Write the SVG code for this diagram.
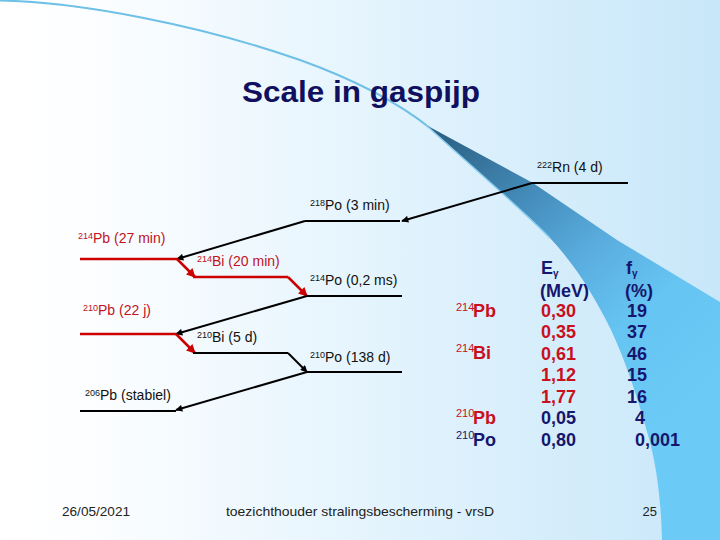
<svg xmlns="http://www.w3.org/2000/svg" width="720" height="540" viewBox="0 0 720 540">
<defs>
<linearGradient id="bg" x1="0" y1="0" x2="1" y2="0">
<stop offset="0" stop-color="#ffffff"/>
<stop offset="0.12" stop-color="#fdfeff"/>
<stop offset="0.55" stop-color="#e2f3fd"/>
<stop offset="1" stop-color="#c8e7f9"/>
</linearGradient>
<linearGradient id="wedge" gradientUnits="userSpaceOnUse" x1="440" y1="130" x2="690" y2="420">
<stop offset="0" stop-color="#2c5f82"/>
<stop offset="0.3" stop-color="#468fbe"/>
<stop offset="0.5" stop-color="#5aaedf"/>
<stop offset="0.7" stop-color="#66c4f2"/>
<stop offset="1" stop-color="#6ccbf6"/>
</linearGradient>
<marker id="ab" viewBox="0 0 10 10" refX="9" refY="5" markerWidth="9" markerHeight="7" markerUnits="userSpaceOnUse" orient="auto"><path d="M0,0 L10,5 L0,10 z" fill="#000"/></marker>
<marker id="ar" viewBox="0 0 10 10" refX="9" refY="5" markerWidth="10" markerHeight="9" markerUnits="userSpaceOnUse" orient="auto"><path d="M0,0 L10,5 L0,10 z" fill="#cc0000"/></marker>
<style>
.lvk{stroke:#000;stroke-width:2;fill:none}
.lvr{stroke:#cc0000;stroke-width:2.5;fill:none}
.ck{stroke:#000;stroke-width:2;fill:none;marker-end:url(#ab)}
.cr{stroke:#cc0000;stroke-width:2.5;fill:none;marker-end:url(#ar)}
.lbl{font-family:"Liberation Sans",Arial,sans-serif;font-size:14px;fill:#111}
.lblr{font-family:"Liberation Sans",Arial,sans-serif;font-size:14px;fill:#c0121e}
.sup{font-size:9px}
.tb{font-family:"Liberation Sans",Arial,sans-serif;font-size:18px;font-weight:bold}
.red{fill:#c8101e}
.navy{fill:#16166e}
.tsup{font-family:"Liberation Sans",Arial,sans-serif;font-size:11px}
.sub{font-size:10px}
.foot{font-family:"Liberation Sans",Arial,sans-serif;font-size:13px;fill:#222}
</style>
</defs>
<rect x="0" y="0" width="720" height="540" fill="url(#bg)"/>
<path d="M0,0.5 C80,2 200,25 300,60 C350,78 395,100 430,128" fill="none" stroke="#6ec0e6" stroke-width="2"/>
<path d="M426,125 L533,183 L617,240 L720,302 L720,540 L662,540 C661,505 658,470 648,435 C637,395 622,350 605,318 C590,290 575,265 550,238 C525,212 470,165 426,125 Z" fill="url(#wedge)"/>
<path d="M426,125 C470,165 525,212 550,238" fill="none" stroke="#86cdf0" stroke-width="1.5"/>
<text x="361" y="102" text-anchor="middle" textLength="238" lengthAdjust="spacingAndGlyphs" font-family="Liberation Sans, Arial, sans-serif" font-size="29" font-weight="bold" fill="#10105e">Scale in gaspijp</text>
<g id="connectors">
<line class="ck" x1="532" y1="183" x2="402" y2="221"/>
<line class="ck" x1="305" y1="221" x2="177" y2="259"/>
<line class="cr" x1="177" y1="259" x2="195" y2="277"/>
<line class="cr" x1="288" y1="277" x2="307" y2="296"/>
<line class="ck" x1="307" y1="296" x2="176" y2="334"/>
<line class="cr" x1="176" y1="334" x2="195" y2="353"/>
<line class="ck" x1="288" y1="353" x2="307" y2="372"/>
<line class="ck" x1="307" y1="372" x2="176" y2="410"/>
</g>
<g id="rn222">
<line class="lvk" x1="532" y1="183" x2="628" y2="183"/>
<text class="lbl" x="537" y="172"><tspan class="sup" dy="-4">222</tspan><tspan dy="4">Rn (4 d)</tspan></text>
</g>
<g id="po218">
<line class="lvk" x1="305" y1="221" x2="400" y2="221"/>
<text class="lbl" x="310" y="210"><tspan class="sup" dy="-4">218</tspan><tspan dy="4">Po (3 min)</tspan></text>
</g>
<g id="pb214">
<line class="lvr" x1="80" y1="259" x2="177" y2="259"/>
<text class="lblr" x="78" y="243"><tspan class="sup" dy="-4">214</tspan><tspan dy="4">Pb (27 min)</tspan></text>
</g>
<g id="bi214">
<line class="lvr" x1="193" y1="277" x2="288" y2="277"/>
<text class="lblr" x="197" y="266"><tspan class="sup" dy="-4">214</tspan><tspan dy="4">Bi (20 min)</tspan></text>
</g>
<g id="po214">
<line class="lvk" x1="307" y1="296" x2="402" y2="296"/>
<text class="lbl" x="310" y="285"><tspan class="sup" dy="-4">214</tspan><tspan dy="4">Po (0,2 ms)</tspan></text>
</g>
<g id="pb210">
<line class="lvr" x1="80" y1="334" x2="176" y2="334"/>
<text class="lblr" x="83" y="315"><tspan class="sup" dy="-4">210</tspan><tspan dy="4">Pb (22 j)</tspan></text>
</g>
<g id="bi210">
<line class="lvk" x1="193" y1="353" x2="288" y2="353"/>
<text class="lbl" x="197" y="342"><tspan class="sup" dy="-4">210</tspan><tspan dy="4">Bi (5 d)</tspan></text>
</g>
<g id="po210">
<line class="lvk" x1="307" y1="372" x2="402" y2="372"/>
<text class="lbl" x="310" y="362"><tspan class="sup" dy="-4">210</tspan><tspan dy="4">Po (138 d)</tspan></text>
</g>
<g id="pb206">
<line class="lvk" x1="80" y1="411" x2="176" y2="411"/>
<text class="lbl" x="85" y="400"><tspan class="sup" dy="-4">206</tspan><tspan dy="4">Pb (stabiel)</tspan></text>
</g>
<g id="table">
<text x="456" y="311" class="tsup red">214</text><text x="473" y="317" class="tb red">Pb</text>
<text x="456" y="352" class="tsup red">214</text><text x="473" y="359" class="tb red">Bi</text>
<text x="456" y="417" class="tsup red">210</text><text x="473" y="424" class="tb red">Pb</text>
<text x="456" y="439" class="tsup navy">210</text><text x="473" y="446" class="tb navy">Po</text>
<text x="541" y="274" class="tb navy">E<tspan class="sub" dy="3">γ</tspan></text>
<text x="540" y="297" class="tb navy">(MeV)</text>
<text x="541" y="317" class="tb red">0,30</text>
<text x="541" y="338" class="tb red">0,35</text>
<text x="541" y="360" class="tb red">0,61</text>
<text x="541" y="381" class="tb red">1,12</text>
<text x="541" y="403" class="tb red">1,77</text>
<text x="541" y="424" class="tb navy">0,05</text>
<text x="541" y="446" class="tb navy">0,80</text>
<text x="626" y="274" class="tb navy">f<tspan class="sub" dy="3">γ</tspan></text>
<text x="625" y="297" class="tb navy">(%)</text>
<text x="627" y="317" class="tb navy">19</text>
<text x="627" y="338" class="tb navy">37</text>
<text x="627" y="360" class="tb navy">46</text>
<text x="627" y="381" class="tb navy">15</text>
<text x="627" y="403" class="tb navy">16</text>
<text x="635" y="424" class="tb navy">4</text>
<text x="635" y="446" class="tb navy">0,001</text>
</g>
<g id="footer">
<text class="foot" x="62" y="516" textLength="68" lengthAdjust="spacingAndGlyphs">26/05/2021</text>
<text class="foot" x="226" y="516" textLength="268" lengthAdjust="spacingAndGlyphs">toezichthouder stralingsbescherming - vrsD</text>
<text class="foot" x="657" y="516" text-anchor="end">25</text>
</g>
</svg>
